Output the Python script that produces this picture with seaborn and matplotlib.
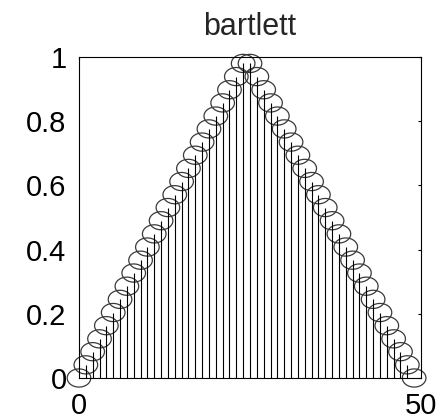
import numpy as np
import matplotlib
matplotlib.use("Agg")
import matplotlib.pyplot as plt
from matplotlib.path import Path
import seaborn as sns

# data (Bartlett window, 50 samples)
n_index = list(range(50))
w_values = [0.000, 0.041, 0.082, 0.122, 0.163, 0.204, 0.245, 0.286, 0.327, 0.367,
            0.408, 0.449, 0.490, 0.531, 0.571, 0.612, 0.653, 0.694, 0.735, 0.776,
            0.816, 0.857, 0.898, 0.939, 0.980, 0.980, 0.939, 0.898, 0.857, 0.816,
            0.776, 0.735, 0.694, 0.653, 0.612, 0.571, 0.531, 0.490, 0.449, 0.408,
            0.367, 0.327, 0.286, 0.245, 0.204, 0.163, 0.122, 0.082, 0.041, 0.000]
x_ticks = [0, 50]
x_tick_labels = ["0", "50"]
y_ticks = [0, 0.2, 0.4, 0.6, 0.8, 1]
y_tick_labels = ["0", "0.2", "0.4", "0.6", "0.8", "1"]
title_text = "bartlett"

sns.set_style("white")
plt.rcParams['font.family'] = ['Liberation Sans', 'DejaVu Sans']

fig = plt.figure(figsize=(4.42, 4.19), dpi=100)
ax = fig.add_axes([79/442, 1-378/419, (421-79)/442, (378-57)/419])

# elliptical open marker (reference is slightly stretched horizontally)
t = np.linspace(0, 2*np.pi, 60)
ell = Path(np.column_stack([1.3*np.cos(t), np.sin(t)]), closed=True)

ax.vlines(n_index, 0, w_values, colors="black", linewidth=0.8, zorder=3)
sns.scatterplot(x=n_index, y=w_values, ax=ax, marker=ell, s=17**2,
                facecolor="none", edgecolor="#3a3a3a", linewidth=0.9,
                zorder=2, legend=False)

ax.set_xlim(0, 50)
ax.set_ylim(0, 1)
ax.set_xticks(x_ticks)
ax.set_xticklabels(x_tick_labels)
ax.set_yticks(y_ticks)
ax.set_yticklabels(y_tick_labels)
ax.tick_params(direction="in", length=2.5, width=0.8, colors="black",
               labelsize=21, top=True, right=True)
ax.tick_params(axis="y", pad=9)
ax.tick_params(axis="x", pad=10)
for sp in ax.spines.values():
    sp.set_visible(True)
    sp.set_color("black")
    sp.set_linewidth(0.8)
ax.set_title(title_text, fontsize=22, pad=16)
for c in ax.collections:
    c.set_clip_on(False)

fig.savefig("out.png", dpi=100)
